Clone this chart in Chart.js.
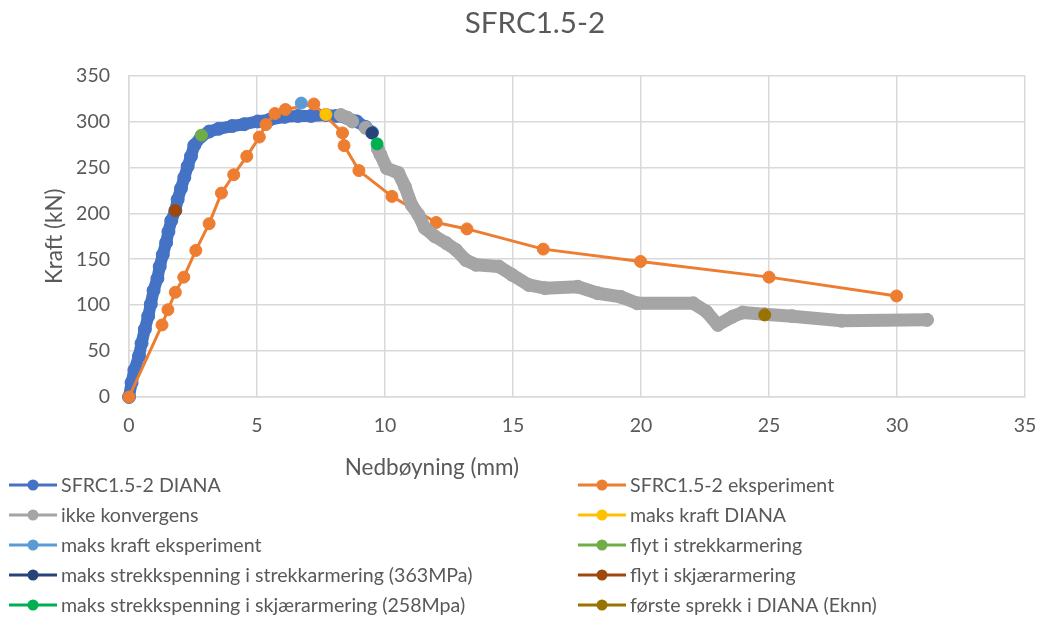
<!DOCTYPE html>
<html>
<head>
<meta charset="utf-8">
<script src="https://cdn.jsdelivr.net/npm/chart.js@4"></script>
<style>
  html, body { margin: 0; padding: 0; background: #ffffff; }
</style>
</head>
<body>
<canvas id="sfrcChart" width="1053" height="622"></canvas>
<script>
// SFRC1.5-2 : kraft mot nedbøyning (DIANA vs eksperiment)

const chartTitle = "SFRC1.5-2";
const xTitle = "Nedbøyning (mm)";
const yTitle = "Kraft (kN)";
const xTicks = [0, 5, 10, 15, 20, 25, 30, 35];
const yTicks = [0, 50, 100, 150, 200, 250, 300, 350];

// SFRC1.5-2 DIANA
const dianaX = [0, 0.10, 0.21, 0.39, 0.49, 0.62, 0.75, 0.85, 0.96, 1.11, 1.20, 1.32, 1.45, 1.54, 1.65, 1.81, 1.90, 2.03, 2.16, 2.29, 2.42, 2.55, 2.83,
  3.13, 3.5, 4.03, 4.5, 5.03, 5.5, 6.08, 6.6, 7.11, 7.69, 8.1, 8.5, 8.9, 9.24, 9.49];
const dianaY = [0, 15.6, 29.4, 44.7, 58.5, 73.8, 88, 101, 116, 129, 142, 155, 168, 180, 192, 203, 215, 227, 239, 251, 262, 274, 284,
  289, 292, 295, 297, 300, 302, 305, 306, 306, 307, 306, 304, 300, 294, 288];

// SFRC1.5-2 eksperiment
const eksX = [0, 1.29, 1.52, 1.81, 2.14, 2.61, 3.13, 3.61, 4.09, 4.60, 5.09, 5.35, 5.70, 6.11, 7.22, 8.34, 8.40, 8.98, 10.27, 12.0, 13.2, 16.18, 19.98, 25.0, 29.98];
const eksY = [0, 78.5, 95, 114, 130.5, 159.6, 188.7, 222, 242, 262, 283, 296.6, 308.6, 313, 319, 287.5, 273.7, 246.5, 218.4, 190, 183, 161, 147.6, 130.5, 110];

// ikke konvergens (null = brudd i serien)
const ikkeX = [8.27, 8.53, 8.72, 9.0, 9.24, 9.35, 9.72, 9.82, 10.07, 10.52, 10.78, 11.04, 11.30, 11.55, 11.94, 12.39, 12.78, 13.16, 13.55, 14.45,
  14.96, 15.61, 16.25, 17.53, 18.31, 19.21, 19.85, 22.04, 22.55, 23.0, 23.58, 23.97, 24.83, 25.9, 27.83, 31.17];
const ikkeY = [307, 304, 300, null, 293, null, 270, 264, 249, 244, 229, 209, 198.5, 184, 175, 167.6, 160, 149, 144, 142,
  133, 122, 118.5, 120, 113, 109, 102, 102, 93, 78.5, 87.6, 92, 90, 88, 83, 84];

// enkeltpunkter
const maksKraftDiana = [7.69, 307.5];
const maksKraftEks = [6.73, 320];
const flytStrekk = [2.83, 285];
const maksStrekkStrekk = [9.49, 287.5];
const flytSkjaer = [1.81, 203];
const maksStrekkSkjaer = [9.69, 275.6];
const forsteSprekk = [24.83, 89.4];

const textColor = "#595959";
const gridColor = "#d9d9d9";
const fontFamily = "Lato, 'Open Sans', sans-serif";

function toPoints(xs, ys) {
  return xs.map((x, i) => ({ x: x, y: ys[i] }));
}

function series(label, color, data, opts) {
  return Object.assign({
    label: label,
    data: data,
    showLine: true,
    borderColor: color,
    backgroundColor: color,
    pointBackgroundColor: color,
    pointBorderColor: color,
    pointRadius: 6,
    pointHoverRadius: 6,
    pointBorderWidth: 1,
    borderWidth: 3,
    borderJoinStyle: "round",
    borderCapStyle: "round",
    spanGaps: false,
    clip: false,
    tension: 0,
  }, opts || {});
}

const datasets = [
  series("SFRC1.5-2 DIANA", "#4472c4", toPoints(dianaX, dianaY), { borderWidth: 12, pointRadius: 6.5 }),
  series("SFRC1.5-2 eksperiment", "#ed7d31", toPoints(eksX, eksY)),
  series("ikke konvergens", "#a5a5a5", toPoints(ikkeX, ikkeY), { borderWidth: 13, pointRadius: 6.5 }),
  series("maks kraft DIANA", "#ffc000", [{ x: maksKraftDiana[0], y: maksKraftDiana[1] }]),
  series("maks kraft eksperiment", "#5b9bd5", [{ x: maksKraftEks[0], y: maksKraftEks[1] }]),
  series("flyt i strekkarmering", "#70ad47", [{ x: flytStrekk[0], y: flytStrekk[1] }]),
  series("maks strekkspenning i strekkarmering (363MPa)", "#264478", [{ x: maksStrekkStrekk[0], y: maksStrekkStrekk[1] }]),
  series("flyt i skjærarmering", "#9e480e", [{ x: flytSkjaer[0], y: flytSkjaer[1] }]),
  series("maks strekkspenning i skjærarmering (258Mpa)", "#00b050", [{ x: maksStrekkSkjaer[0], y: maksStrekkSkjaer[1] }]),
  series("første sprekk i DIANA (Eknn)", "#997300", [{ x: forsteSprekk[0], y: forsteSprekk[1] }]),
];
// siste serie øverst, som i Excel
datasets.forEach((ds, i) => { ds.order = datasets.length - i; });

// legende i to kolonner + x-aksetittel
const excelLegend = {
  id: "excelLegend",
  afterDraw(chart) {
    const ctx = chart.ctx;
    const area = chart.chartArea;
    ctx.save();
    ctx.fillStyle = textColor;
    ctx.textBaseline = "middle";
    ctx.textAlign = "center";
    ctx.font = "22.5px " + fontFamily;
    ctx.fillText(xTitle, area.left + (area.right - area.left) * 0.338, 468);

    ctx.font = "19.6px " + fontFamily;
    ctx.textAlign = "left";
    chart.data.datasets.forEach((ds, i) => {
      const col = i % 2;
      const row = Math.floor(i / 2);
      const x0 = col === 0 ? 9 : 578;
      const y = 485 + row * 30;
      ctx.strokeStyle = ds.borderColor;
      ctx.lineWidth = 3;
      ctx.beginPath();
      ctx.moveTo(x0, y);
      ctx.lineTo(x0 + 48, y);
      ctx.stroke();
      ctx.fillStyle = ds.borderColor;
      ctx.beginPath();
      ctx.arc(x0 + 24, y, 5.5, 0, Math.PI * 2);
      ctx.fill();
      ctx.fillStyle = textColor;
      ctx.fillText(ds.label, x0 + 52, y + 1);
    });
    ctx.restore();
  },
};

const ctx = document.getElementById("sfrcChart").getContext("2d");
const myChart = new Chart(ctx, {
  type: "scatter",
  data: { datasets: datasets },
  options: {
    responsive: false,
    animation: false,
    layout: {
      padding: { left: 34, right: 17, top: 0, bottom: 0 },
    },
    plugins: {
      legend: { display: false },
      tooltip: { enabled: false },
      title: {
        display: true,
        text: chartTitle,
        color: textColor,
        font: { family: fontFamily, size: 29.6, weight: "normal" },
        padding: { top: 6, bottom: 34 },
      },
    },
    scales: {
      x: {
        type: "linear",
        min: 0,
        max: 35,
        afterFit(scale) { scale.height = 225; },
        afterBuildTicks(scale) { scale.ticks = xTicks.map((v) => ({ value: v })); },
        ticks: {
          color: textColor,
          padding: 16.6,
          font: { family: fontFamily, size: 19.5 },
        },
        grid: { color: gridColor, lineWidth: 1.5, drawTicks: false },
        border: { color: gridColor, width: 1.5 },
      },
      y: {
        type: "linear",
        min: 0,
        max: 350,
        afterFit(scale) { scale.width = 95; },
        afterBuildTicks(scale) { scale.ticks = yTicks.map((v) => ({ value: v })); },
        ticks: {
          color: textColor,
          padding: 19,
          font: { family: fontFamily, size: 19.5 },
        },
        title: {
          display: true,
          text: yTitle,
          color: textColor,
          font: { family: fontFamily, size: 22.5 },
          padding: { top: 7.5, bottom: 0 },
        },
        grid: { color: gridColor, lineWidth: 1.5, drawTicks: false },
        border: { color: gridColor, width: 1.5 },
      },
    },
  },
  plugins: [excelLegend],
});
</script>
</body>
</html>
